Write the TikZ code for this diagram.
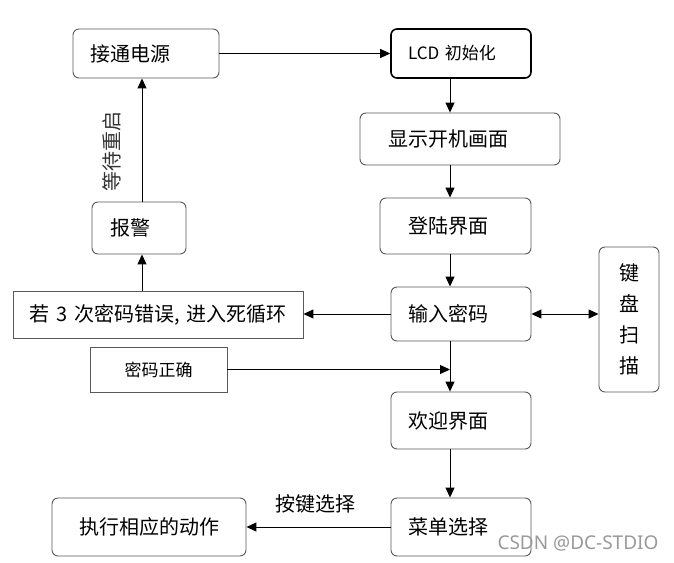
\documentclass[tikz,border=0pt]{standalone}
\usepackage{fontspec}
\setmainfont{Noto Sans CJK SC}
\newfontfamily\marksans{Noto Sans}
\usetikzlibrary{arrows.meta,positioning}

\tikzset{
  box/.style={draw=black!65, line width=0.9pt, rounded corners=6pt, align=left,
    inner xsep=17pt, inner ysep=0pt, font=\fontsize{20pt}{24pt}\selectfont},
  sqbox/.style={box, rounded corners=0pt, align=center},
}

\begin{document}
\begin{tikzpicture}[x=1pt, y=1pt, line width=1pt, >={Triangle[length=10pt,width=9pt]}]
        \useasboundingbox (0,0) rectangle (674,-562);
        \coordinate (ax) at (450,0);
        \coordinate (lx) at (142,0);
        % main column
        \node [box, draw=black, line width=1.6pt, text width=106pt, minimum height=49pt,
               font=\fontsize{17pt}{20pt}\selectfont] (lcd) at (461,-53.5) {LCD 初始化};
        \node [box, below of=lcd, node distance=85.5pt, xshift=-1pt, inner xsep=28pt,
               text width=144pt, minimum height=52pt] (disp) {显示开机画面};
        \node [box, below of=disp, node distance=87pt, xshift=-4.5pt, inner xsep=28pt,
               text width=95pt, minimum height=56pt] (login) {登陆界面};
        \node [box, below of=login, node distance=88pt, xshift=5.5pt,
               text width=106pt, minimum height=54pt] (in) {输入密码};
        \node [box, below of=in, node distance=106.5pt,
               text width=106pt, minimum height=57pt] (welc) {欢迎界面};
        \node [box, below of=welc, node distance=106.5pt,
               text width=106pt, minimum height=58pt] (menu) {菜单选择};
        % left side
        \node [box, text width=112pt, minimum height=49pt] (pwr) at (146,-53.5) {接通电源};
        \node [box, inner xsep=18pt, text width=58pt, minimum height=52pt] (alarm) at (139,-228) {报警};
        \node [sqbox, inner xsep=0pt, text width=290pt, minimum height=47pt] (err) at (158,-314.5) {若 3 次密码错误, 进入死循环};
        \node [sqbox, text width=137pt, inner xsep=0pt, minimum height=45pt,
               font=\fontsize{17pt}{20pt}\selectfont] (ok) at (158.5,-369.5) {密码正确};
        \node [box, inner xsep=27pt, text width=140pt, minimum height=58pt] (exec) at (149,-527) {执行相应的动作};
        % right side
        \node [box, align=center, inner xsep=0pt, text width=60pt, minimum height=145pt,
               font=\fontsize{20pt}{31pt}\selectfont] (kb) at (629,-319.5) {键\\盘\\扫\\描};

        \draw[->] (pwr) -- (lcd);
        \draw[->] (lcd.south -| ax) -- (disp.north -| ax);
        \draw[->] (disp.south -| ax) -- (login.north -| ax);
        \draw[->] (login.south -| ax) -- (in.north -| ax);
        \draw[->] (in.west) -- (in.west -| err.east);
        \draw[<->] (in.east) -- (in.east -| kb.west);
        \draw[->] (err.north -| lx) -- (alarm.south -| lx);
        \draw[->] (alarm.north -| lx) -- node [pos=0.41, sloped, above=17pt,
               font=\fontsize{20pt}{24pt}\selectfont, text=black!80] (wait) {等待重启} (pwr.south -| lx);
        \draw[->] (ok) -- (ok -| ax);
        \draw[->] (in.south -| ax) -- (welc.north -| ax);
        \draw[->] (welc.south -| ax) -- (menu.north -| ax);
        \draw[->] (menu) -- node [above=10pt, pos=0.52,
               font=\fontsize{20pt}{24pt}\selectfont] (sel) {按键选择} (exec);

        \node [text=black!40, font=\fontsize{19pt}{22pt}\marksans] (mark) at (578,-543) {CSDN @DC-STDIO};
      \end{tikzpicture}
\end{document}
